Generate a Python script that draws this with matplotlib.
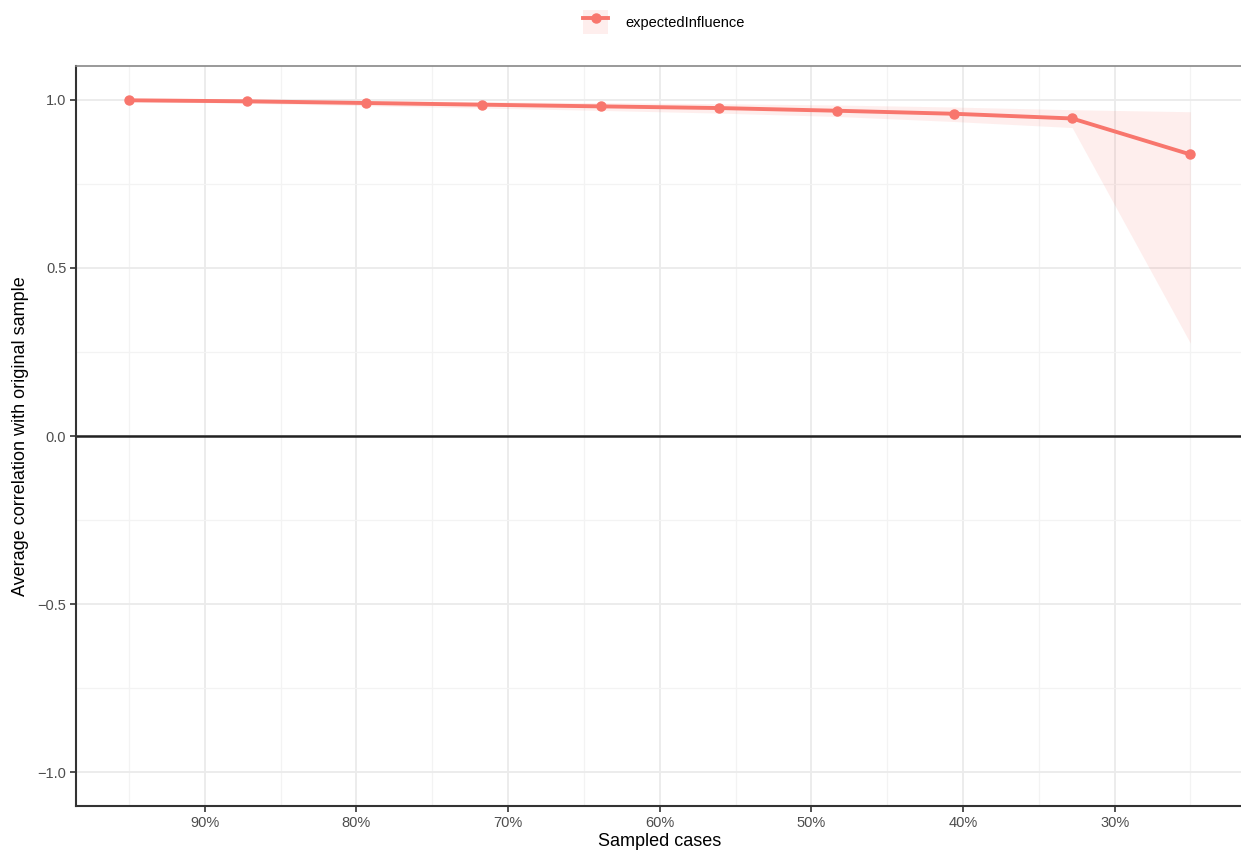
import matplotlib
matplotlib.use("Agg")
import matplotlib.pyplot as plt
from matplotlib.lines import Line2D
from matplotlib.patches import Patch
import numpy as np

plt.rcParams['font.family'] = ['Liberation Sans', 'DejaVu Sans']

# - DATA -
sampled = [95.0, 87.2, 79.4, 71.7, 63.9, 56.1, 48.3, 40.6, 32.8, 25.0]
mean_cor = [0.998, 0.995, 0.990, 0.985, 0.980, 0.975, 0.967, 0.958, 0.944, 0.837]
lower_q = [0.995, 0.989, 0.982, 0.975, 0.968, 0.960, 0.950, 0.935, 0.917, 0.276]
upper_q = [1.000, 0.999, 0.997, 0.994, 0.991, 0.988, 0.984, 0.978, 0.970, 0.964]
series_name = "expectedInfluence"
x_ticks = [90, 80, 70, 60, 50, 40, 30]
y_ticks = [1.0, 0.5, 0.0, -0.5, -1.0]
# - DATA -

col = "#F8766D"

fig = plt.figure(figsize=(12.41, 8.57), dpi=100)
ax = fig.add_axes([76/1241, 51/857, 1 - 76/1241 + 0.002, (806-66)/857])

ax.set_xlim(98.5, 21.5)
ax.set_ylim(-1.1, 1.1)

# grids like ggplot theme_bw
ax.set_xticks(x_ticks)
ax.set_xticks([95, 85, 75, 65, 55, 45, 35, 25], minor=True)
ax.set_yticks(y_ticks)
ax.set_yticks([0.75, 0.25, -0.25, -0.75], minor=True)
ax.grid(which='major', color='#EBEBEB', linewidth=1.3)
ax.grid(which='minor', color='#F3F3F3', linewidth=0.9)
ax.set_axisbelow(True)

ax.fill_between(sampled, lower_q, upper_q, color=col, alpha=0.12, linewidth=0)
ax.axhline(0, color='#222222', linewidth=1.8)
ax.plot(sampled, mean_cor, color=col, linewidth=2.8, marker='o', markersize=6.5)

ax.set_xticklabels([f"{t}%" for t in x_ticks])
ax.set_yticklabels([f"{t:.1f}".replace('-', '\u2212') for t in y_ticks])
ax.tick_params(which='major', length=4, width=1.2, color='#333333',
               labelcolor='#4D4D4D', labelsize=10.5, pad=3)
ax.tick_params(which='minor', length=0)

for s in ['top', 'right']:
    ax.spines[s].set_color('#888888')
    ax.spines[s].set_linewidth(1.2)
for s in ['left', 'bottom']:
    ax.spines[s].set_color('#333333')
    ax.spines[s].set_linewidth(1.5)

ax.set_xlabel("Sampled cases", fontsize=13, labelpad=2)
ax.set_ylabel("Average correlation with original sample", fontsize=13, labelpad=6)

handles = [(Patch(facecolor=col, alpha=0.12, edgecolor='none'),
            Line2D([], [], color=col, linewidth=2.8, marker='o', markersize=6.5))]
fig.legend(handles, [series_name], loc='center', bbox_to_anchor=(664/1241, 1 - 22/857),
           frameon=False, fontsize=10.5, handlelength=1.7, handleheight=2.2,
           handletextpad=1.2)

fig.savefig("out.png", dpi=100)
